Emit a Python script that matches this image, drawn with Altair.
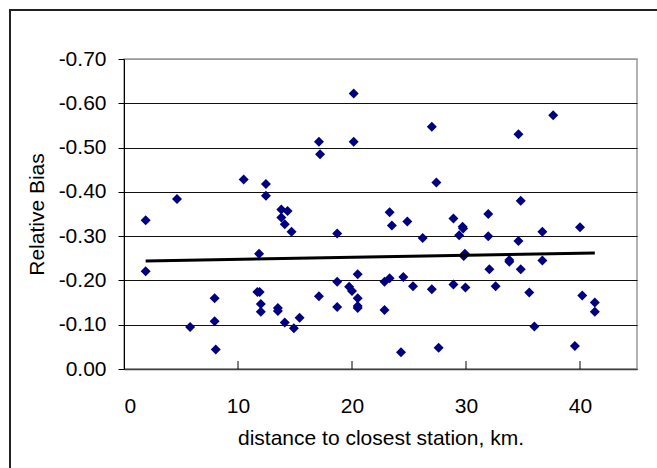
import altair as alt
import pandas as pd

# distance to closest station (km) and relative bias
dist = [1.9, 1.9, 4.65, 5.8, 7.95, 7.95, 8.05, 10.5, 12.45, 12.45,
        11.85, 11.7, 11.9, 12.0, 12.0, 13.8, 14.35, 13.8, 14.1, 14.7,
        13.5, 13.5, 14.1, 14.9, 15.4, 17.1, 17.1, 17.2, 20.15, 20.15,
        27.0, 27.4, 18.7, 18.7, 18.7, 19.75, 20.0, 20.5, 20.5, 20.5,
        20.5, 22.85, 23.3, 22.85, 23.3, 23.5, 24.3, 24.5, 24.85, 25.35,
        26.2, 27.0, 27.6, 28.9, 28.9, 29.7, 29.75, 29.4, 29.8, 29.9,
        29.95, 31.95, 31.95, 32.05, 32.6, 33.8, 33.8, 34.8, 34.6, 34.8,
        36.7, 36.7, 35.55, 36.0, 40.0, 40.2, 41.3, 41.3, 39.55, 37.65,
        34.6]
bias = [-0.336, -0.221, -0.384, -0.095, -0.160, -0.108, -0.044, -0.428, -0.418, -0.391,
        -0.260, -0.174, -0.174, -0.147, -0.129, -0.360, -0.357, -0.342, -0.327, -0.310,
        -0.138, -0.131, -0.105, -0.092, -0.116, -0.164, -0.513, -0.485, -0.513, -0.622,
        -0.547, -0.421, -0.306, -0.197, -0.140, -0.186, -0.176, -0.214, -0.160, -0.142,
        -0.138, -0.197, -0.205, -0.133, -0.354, -0.324, -0.038, -0.208, -0.333, -0.187,
        -0.296, -0.180, -0.048, -0.340, -0.191, -0.321, -0.317, -0.302, -0.255, -0.260,
        -0.184, -0.350, -0.300, -0.225, -0.187, -0.246, -0.242, -0.380, -0.289, -0.225,
        -0.310, -0.245, -0.173, -0.096, -0.320, -0.166, -0.150, -0.129, -0.052, -0.573,
        -0.530]

# linear trend line end points
trend_x = [1.9, 41.3]
trend_y = [-0.244, -0.262]

x_ticks = [0, 10, 20, 30, 40]
x_inner_ticks = [10, 20, 30, 40]
y_ticks = [-0.7, -0.6, -0.5, -0.4, -0.3, -0.2, -0.1, 0.0]

pts = pd.DataFrame({"d": dist, "b": bias})
trend = pd.DataFrame({"d": trend_x, "b": trend_y})
ticks = pd.DataFrame({"d": x_inner_ticks})

W, H = 513, 310
FONT = "Liberation Sans"

xscale = alt.Scale(domain=[0, 45], nice=False, zero=False)
yscale = alt.Scale(domain=[-0.7, 0], reverse=True, nice=False, zero=False)

xaxis = alt.Axis(
    values=x_ticks, title="distance to closest station, km.", grid=False,
    tickSize=0, labelPadding=26, labelFontSize=21, labelFont=FONT, labelColor="black",
    titleFontSize=21, titleFont=FONT, titleFontWeight="normal", titleColor="black",
    titleX=W / 2, titleY=69, titleBaseline="middle", titleAlign="center",
    domainColor="#404040", domainWidth=1.5,
)
yaxis = alt.Axis(
    values=y_ticks, title="Relative Bias",
    labelExpr="datum.value < -0.0001 ? '-' + format(-datum.value, '.2f') : format(0, '.2f')",
    tickSize=6, tickColor="black", labelPadding=12,
    labelFontSize=21, labelFont=FONT, labelColor="black",
    titleFontSize=21, titleFont=FONT, titleFontWeight="normal", titleColor="black",
    titleX=-87, titleY=H / 2, titleAngle=270, titleBaseline="middle", titleAlign="center",
    grid=True,
    gridColor={"condition": {"test": "datum.value < -0.69", "value": "#999999"}, "value": "#111111"},
    gridWidth=1, domainColor="black", domainWidth=1,
)

frame = alt.Chart(pd.DataFrame({"a": [0]})).mark_rect(
    fill=None, stroke="#222222", strokeWidth=2
).encode(
    x=alt.value(-114), x2=alt.value(560), y=alt.value(-49), y2=alt.value(420)
)

points = alt.Chart(pts).mark_point(
    shape="diamond", filled=True, size=100, color="#000080", opacity=1
).encode(
    x=alt.X("d:Q", scale=xscale, axis=xaxis),
    y=alt.Y("b:Q", scale=yscale, axis=yaxis),
)

line = alt.Chart(trend).mark_line(color="black", strokeWidth=3).encode(
    x=alt.X("d:Q", scale=xscale),
    y=alt.Y("b:Q", scale=yscale),
)

tick_marks = alt.Chart(ticks).mark_rule(color="black", strokeWidth=1).encode(
    x=alt.X("d:Q", scale=xscale),
    y=alt.value(H - 8), y2=alt.value(H),
)

chart = alt.layer(frame, points, line, tick_marks).properties(
    width=W, height=H,
    autosize=alt.AutoSizeParams(type="none"),
    padding={"left": 124, "top": 59, "right": 20, "bottom": 99},
    background="white",
).configure_view(stroke="#999999", strokeWidth=1.5)

chart.save("out.html", embed_options={"renderer": "svg", "actions": False})
